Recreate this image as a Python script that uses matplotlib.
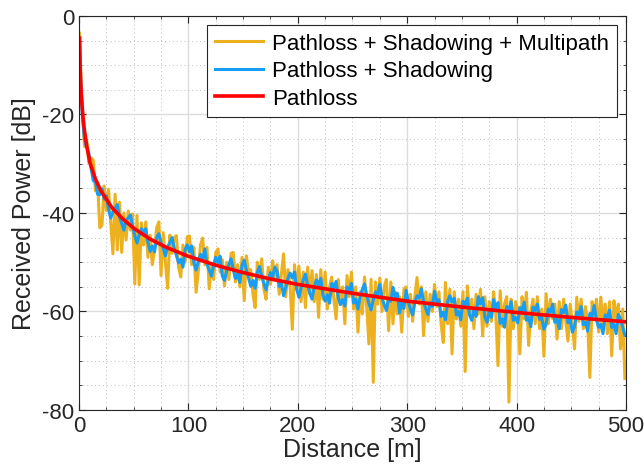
import matplotlib
matplotlib.use("Agg")
import matplotlib.pyplot as plt
from matplotlib.ticker import MultipleLocator
import numpy as np

plt.rcParams['font.family'] = ['Liberation Sans', 'DejaVu Sans']
plt.rcParams['axes.unicode_minus'] = False

# pathloss curve
dist_pathloss = [0.5, 1, 1.5, 2, 3, 4, 5, 7, 10, 15, 20, 30, 40, 50, 65, 80,
                 100, 125, 150, 175, 200, 250, 300, 350, 400, 450, 500]
pathloss = [-4.5, -10.0, -13.5, -15.8, -18.8, -21.3, -23.3, -26.3, -29.8,
            -33.1, -35.5, -38.9, -41.2, -43.1, -45.3, -47.0, -48.8, -50.6,
            -52.1, -53.4, -54.5, -56.3, -57.9, -59.1, -60.2, -61.2, -62.1]

# noisy series sampled at 0.5 m, then every 2 m from 1 m to 499 m
dist_noisy = [0.5] + list(range(1, 500, 2))

shadowing = [
    -6.0,
    -10.0, -20.0, -25.1, -26.7, -27.9, -30.9, -33.4, -33.7, -36.2, -36.3,
    -35.1, -37.2, -36.5, -39.3, -41.0, -39.8, -39.1, -38.3, -40.8, -42.1,
    -43.5, -41.5, -41.0, -40.4, -42.8, -44.6, -46.1, -44.5, -43.2, -44.3,
    -43.2, -45.9, -47.8, -46.7, -47.9, -45.0, -44.2, -46.1, -47.2, -48.7,
    -46.9, -46.0, -45.0, -47.1, -48.6, -50.1, -49.4, -51.0, -47.4, -46.5,
    -47.9, -46.7, -50.1, -51.6, -49.9, -48.4, -49.4, -47.3, -50.4, -51.6,
    -52.8, -50.7, -49.0, -50.1, -48.8, -52.8, -53.7, -51.7, -50.5, -49.3,
    -51.5, -53.3, -52.4, -54.1, -50.6, -49.6, -51.6, -53.2, -54.9, -53.7,
    -55.3, -52.0, -50.9, -52.9, -54.3, -55.6, -53.6, -52.1, -53.0, -51.0,
    -51.8, -54.9, -54.3, -56.8, -55.1, -53.3, -52.2, -53.2, -52.0, -55.5,
    -57.1, -55.2, -53.6, -52.4, -54.7, -56.3, -57.5, -55.0, -53.6, -54.6,
    -53.3, -56.6, -57.9, -56.6, -58.3, -54.3, -55.2, -53.9, -57.2, -58.6,
    -57.6, -58.9, -55.0, -55.9, -54.3, -58.3, -57.5, -59.5, -57.0, -55.5,
    -54.4, -56.7, -58.4, -59.7, -57.6, -56.0, -56.5, -54.5, -57.4, -58.6,
    -59.8, -57.4, -57.9, -55.1, -57.1, -56.3, -60.3, -58.2, -59.4, -55.7,
    -58.1, -59.6, -60.7, -58.1, -56.8, -57.3, -55.4, -58.0, -59.5, -60.6,
    -58.2, -59.0, -55.9, -58.0, -57.6, -61.0, -60.1, -61.7, -57.9, -56.8,
    -58.1, -57.3, -60.7, -60.0, -61.7, -57.9, -58.6, -57.3, -60.7, -61.8,
    -59.6, -61.0, -57.0, -58.4, -57.2, -61.1, -62.2, -60.0, -61.2, -57.6,
    -59.6, -58.2, -62.4, -61.5, -63.2, -59.0, -59.7, -58.0, -61.8, -61.2,
    -62.3, -59.2, -59.8, -58.1, -61.8, -61.2, -63.1, -59.1, -59.8, -58.5,
    -61.6, -61.2, -63.6, -62.6, -59.5, -60.1, -58.5, -62.2, -61.6, -63.5,
    -59.6, -60.2, -58.7, -62.3, -61.6, -64.2, -63.1, -60.1, -60.7, -59.0,
    -62.7, -62.2, -64.0, -60.4, -61.0, -58.8, -61.7, -63.2, -62.6, -64.5,
    -60.7, -61.3, -59.7, -63.3, -62.6, -64.5, -60.6, -61.5, -63.2, -64.8,
]

multipath = [
    -3.5,
    -8.5, -18.5, -26.5, -25.2, -29.8, -28.8, -29.3, -35.5, -33.8, -43.0,
    -42.5, -34.5, -39.5, -35.2, -42.0, -48.3, -36.2, -47.5, -37.8, -48.0,
    -40.0, -45.5, -39.6, -43.5, -40.2, -54.4, -40.5, -54.6, -42.0, -46.5,
    -41.8, -49.0, -44.5, -50.5, -47.5, -43.0, -41.8, -52.7, -44.0, -50.0,
    -55.3, -44.5, -48.2, -45.0, -44.6, -51.0, -53.0, -46.5, -50.0, -44.8,
    -44.7, -50.5, -47.0, -56.1, -52.0, -46.5, -45.1, -50.5, -47.0, -55.4,
    -50.5, -53.5, -48.0, -47.3, -52.0, -49.5, -54.8, -50.0, -53.5, -48.2,
    -48.0, -54.0, -50.5, -55.0, -49.0, -57.8, -48.7, -52.0, -51.5, -56.5,
    -59.2, -50.0, -53.5, -49.3, -55.5, -57.5, -51.0, -54.5, -49.7, -53.0,
    -50.5, -56.5, -52.5, -48.3, -57.0, -51.5, -55.0, -63.6, -50.5, -55.5,
    -50.8, -58.0, -52.0, -59.2, -51.0, -56.5, -51.7, -58.0, -52.5, -61.2,
    -51.5, -57.5, -52.0, -59.5, -55.0, -53.0, -57.5, -61.5, -53.5, -58.5,
    -55.0, -62.5, -52.7, -57.0, -52.0, -59.5, -55.0, -64.2, -56.0, -60.5,
    -53.0, -59.0, -66.6, -53.5, -74.4, -54.0, -58.5, -53.2, -60.0, -55.0,
    -53.5, -63.9, -54.0, -62.5, -56.0, -60.5, -57.0, -64.2, -55.5, -55.0,
    -61.0, -56.5, -62.0, -57.0, -53.1, -58.5, -55.0, -64.9, -56.0, -62.0,
    -56.5, -60.0, -54.5, -59.0, -56.0, -62.5, -66.3, -54.1, -62.5, -55.5,
    -68.6, -56.0, -61.5, -57.5, -63.0, -56.0, -72.2, -54.8, -60.0, -57.5,
    -63.5, -56.5, -60.5, -55.5, -65.0, -57.0, -63.0, -58.0, -62.0, -56.0,
    -60.5, -71.0, -55.8, -63.0, -58.5, -57.0, -78.4, -57.5, -63.5, -58.0,
    -59.5, -68.6, -57.0, -61.5, -56.1, -66.9, -60.0, -57.5, -62.5, -57.0,
    -63.5, -59.5, -69.1, -56.4, -62.5, -57.5, -61.5, -58.5, -65.6, -58.0,
    -63.5, -57.5, -62.0, -66.0, -58.5, -62.5, -67.6, -57.1, -62.0, -57.5,
    -63.5, -59.0, -62.5, -73.4, -58.0, -61.0, -57.5, -64.2, -57.1, -62.5,
    -58.5, -64.5, -58.0, -69.0, -57.8, -62.0, -58.5, -67.6, -59.5, -73.6,
]

series_labels = ['Pathloss + Shadowing + Multipath', 'Pathloss + Shadowing', 'Pathloss']

fig = plt.figure(figsize=(6.44, 4.77), dpi=100)
ax = fig.add_axes([0.1227, 0.1384, 0.8493, 0.8260])

ax.plot(dist_noisy, multipath, color='#EDB120', lw=2.2, label=series_labels[0])
ax.plot(dist_noisy, shadowing, color='#169DF5', lw=2.2, label=series_labels[1])
ax.plot(dist_pathloss, pathloss, color='#FF0000', lw=2.6, label=series_labels[2])

ax.set_xlim(0, 500)
ax.set_ylim(-80, 0)
ax.xaxis.set_major_locator(MultipleLocator(100))
ax.xaxis.set_minor_locator(MultipleLocator(25))
ax.yaxis.set_major_locator(MultipleLocator(20))
ax.yaxis.set_minor_locator(MultipleLocator(5))
ax.tick_params(which='both', direction='in', top=True, right=True,
               colors='#262626', labelsize=16)
ax.tick_params(which='major', length=5)
ax.tick_params(which='minor', length=2.5)
ax.grid(which='major', color='#DCDCDC', lw=1, linestyle='-')
ax.grid(which='minor', color='#BDBDBD', lw=0.7, linestyle=(0, (1, 3)))
ax.set_axisbelow(True)
for sp in ax.spines.values():
    sp.set_color('#262626')
    sp.set_linewidth(0.8)

ax.set_xlabel('Distance [m]', fontsize=18, color='#262626', labelpad=1)
ax.set_ylabel('Received Power [dB]', fontsize=18, color='#262626', labelpad=4)

leg = ax.legend(loc='upper right', fontsize=16, fancybox=False, framealpha=1,
                edgecolor='#262626', handlelength=2.2, handletextpad=0.4,
                labelspacing=0.3, borderpad=0.35, borderaxespad=0.4)
leg.get_frame().set_linewidth(0.8)

fig.savefig('out.png', dpi=100)
